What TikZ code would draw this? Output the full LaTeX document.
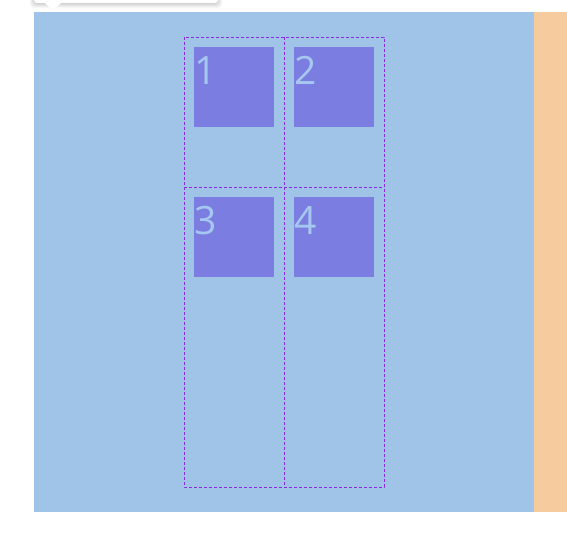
\documentclass[tikz,border=0pt]{standalone}
\usepackage{fontspec}
\setmainfont{Open Sans}
\usepackage{tikz}
\usetikzlibrary{positioning}
\definecolor{pageblue}{RGB}{160,196,232}
\definecolor{itemblue}{RGB}{123,126,224}
\definecolor{numblue}{RGB}{166,200,240}
\definecolor{gridviolet}{RGB}{138,43,226}
\definecolor{sidebar}{RGB}{246,203,158}
\tikzset{
  cellbox/.style={fill=itemblue, minimum size=80pt, inner sep=0pt, outer sep=0pt, anchor=north west},
  cellnum/.style={text=numblue, font=\fontsize{39}{39}\selectfont, inner sep=0pt, anchor=base west},
  gridrule/.style={draw=gridviolet, line width=0.8pt, dash pattern=on 3pt off 2pt},
  tipshade/.style={fill=black, fill opacity=0.035, rounded corners=4pt}
}
\begin{document}
\begin{tikzpicture}[x=1pt, y=-1pt]
\useasboundingbox (0,0) rectangle (567,534);
\fill[white] (0,0) rectangle (567,534);
%
\fill[pageblue] (34,12) rectangle (534,512);
\fill[sidebar] (534,12) rectangle (567,512);
%
\foreach \s in {0,1,2,3,4}
  \fill[tipshade] (34-\s,-8) rectangle (218+\s,4+\s);
\fill[white, rounded corners=3pt] (34,-8) rectangle (218,3);
\fill[white] (44,2) -- (53,11) -- (62,2) -- cycle;
%
\node[cellbox] (box1) at (194,47) {};
\node[cellbox] (box2) at (294,47) {};
\node[cellbox] (box3) at (194,197) {};
\node[cellbox] (box4) at (294,197) {};
%
\node[cellnum] (num1) at ([yshift=-38pt]box1.north west) {1};
\node[cellnum] (num2) at ([yshift=-38pt]box2.north west) {2};
\node[cellnum] (num3) at ([yshift=-38pt]box3.north west) {3};
\node[cellnum] (num4) at ([yshift=-38pt]box4.north west) {4};
%
\draw[gridrule] (184,37) rectangle (384,487);
\draw[gridrule] (284,37) -- (284,487);
\draw[gridrule] (184,187) -- (384,187);
\end{tikzpicture}
\end{document}
